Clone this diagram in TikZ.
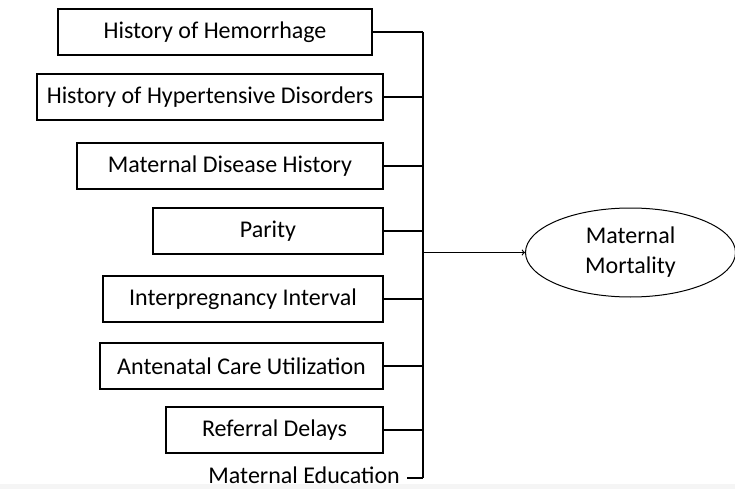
\documentclass[tikz,border=0pt]{standalone}
\usepackage{fontspec}
\setmainfont{Carlito}
\usetikzlibrary{shapes.geometric}

\begin{document}
\begin{tikzpicture}[x=1pt,y=-1pt,
  factor/.style={draw,line width=1.2pt,minimum height=46pt,inner sep=0pt,
    font=\fontsize{24}{28}\selectfont},
  link/.style={line width=1.2pt},
  outcome/.style={draw,ellipse,line width=1pt,minimum width=210pt,minimum height=89pt,
    inner sep=0pt,align=center,font=\fontsize{24}{30}\selectfont}]
  \useasboundingbox (0,0) rectangle (735,489);
  \fill[gray!8] (0,484) rectangle (735,489);
  % factors
  \node[factor,minimum width=314pt] (hem) at (215,32) {History of Hemorrhage};
  \node[factor,minimum width=346pt] (hyp) at (210,97) {History of Hypertensive Disorders};
  \node[factor,minimum width=306pt] (dis) at (230,166) {Maternal Disease History};
  \node[factor,minimum width=230pt] (par) at (268,231) {Parity};
  \node[factor,minimum width=280pt] (ipi) at (243,299) {Interpregnancy Interval};
  \node[factor,minimum width=283pt] (anc) at (241.5,366) {Antenatal Care Utilization};
  \node[factor,minimum width=217pt] (ref) at (274.5,430) {Referral Delays};
  \node[font=\fontsize{24}{28}\selectfont,anchor=base east,inner ysep=2pt,inner xsep=7pt] (edu) at (407,483) {Maternal Education};
  % outcome
  \node[outcome] (mort) at (630.5,252.5) {Maternal\\Mortality};
  \coordinate (bus) at (423,0);
  % connectors
  \foreach \f in {hem,hyp,dis,par,ipi,anc,ref}
    \draw[link] (\f.east) -- (\f.east -| bus);
  \draw[link] (edu.east |- 0,478) -- (bus |- 0,478);
  \draw[link] (hem.east -| bus) -- (bus |- 0,478);
  \draw[link,->] (mort.west -| bus) -- (mort.west);
\end{tikzpicture}
\end{document}
